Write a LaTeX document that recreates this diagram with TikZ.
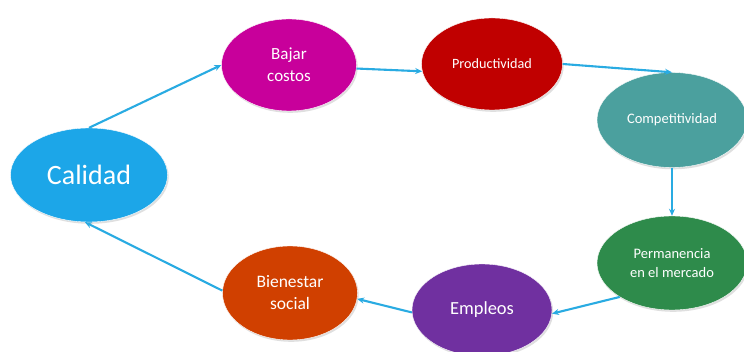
\documentclass[tikz,border=0pt]{standalone}
\usepackage{fontspec}
\setmainfont{Carlito}
\usetikzlibrary{shapes.geometric,arrows.meta,shadows}
\definecolor{cCal}{RGB}{28,166,232}
\definecolor{cBaj}{RGB}{200,0,155}
\definecolor{cPro}{RGB}{192,0,0}
\definecolor{cCom}{RGB}{75,160,158}
\definecolor{cPer}{RGB}{46,139,75}
\definecolor{cEmp}{RGB}{112,48,160}
\definecolor{cBie}{RGB}{208,64,0}
\definecolor{cArr}{RGB}{41,171,226}
\tikzset{
  bubble/.style={ellipse, inner sep=0pt, text=white, align=center,
    draw=white, line width=0.4pt,
    drop shadow={opacity=0.25, shadow xshift=1.2pt, shadow yshift=-1.8pt}},
  link/.style={draw=cArr, line width=2.1pt, -{Stealth[length=7pt,width=6pt]}}
}
\begin{document}
\begin{tikzpicture}[x=1pt,y=-1pt]
\useasboundingbox[fill=white] (0,0) rectangle (744,352);
\node[bubble, fill=cCal, minimum width=157pt, minimum height=94pt,
  font=\fontsize{28}{32}\selectfont] (cal) at (89,175) {Calidad};
\node[bubble, fill=cBaj, minimum width=135pt, minimum height=92pt,
  font=\fontsize{17}{22}\selectfont] (baj) at (289,65) {Bajar\\costos};
\node[bubble, fill=cPro, minimum width=141pt, minimum height=92pt,
  font=\fontsize{14.2}{16}\selectfont] (pro) at (492,64) {Productividad};
\node[bubble, fill=cCom, minimum width=150pt, minimum height=95pt,
  font=\fontsize{14.5}{16}\selectfont] (com) at (672,120) {Competitividad};
\node[bubble, fill=cPer, minimum width=150pt, minimum height=94pt,
  font=\fontsize{14.5}{19}\selectfont] (per) at (672,263) {Permanencia\\en el mercado};
\node[bubble, fill=cEmp, minimum width=140pt, minimum height=92pt,
  font=\fontsize{18.5}{22}\selectfont] (emp) at (482,310) {Empleos};
\node[bubble, fill=cBie, minimum width=135pt, minimum height=94pt,
  font=\fontsize{17.5}{22}\selectfont] (bie) at (290,293) {Bienestar\\social};
\draw[link] (cal.north) -- (baj.west);
\draw[link] (baj.-3) -- (pro.186);
\draw[link] (pro.east) -- (com.north);
\draw[link] (com.south) -- (per.north);
\draw[link] (per.213) -- (emp.-3);
\draw[link] (emp.182) -- (bie.-5);
\draw[link] (bie.178) -- (cal.-95);
\end{tikzpicture}
\end{document}
